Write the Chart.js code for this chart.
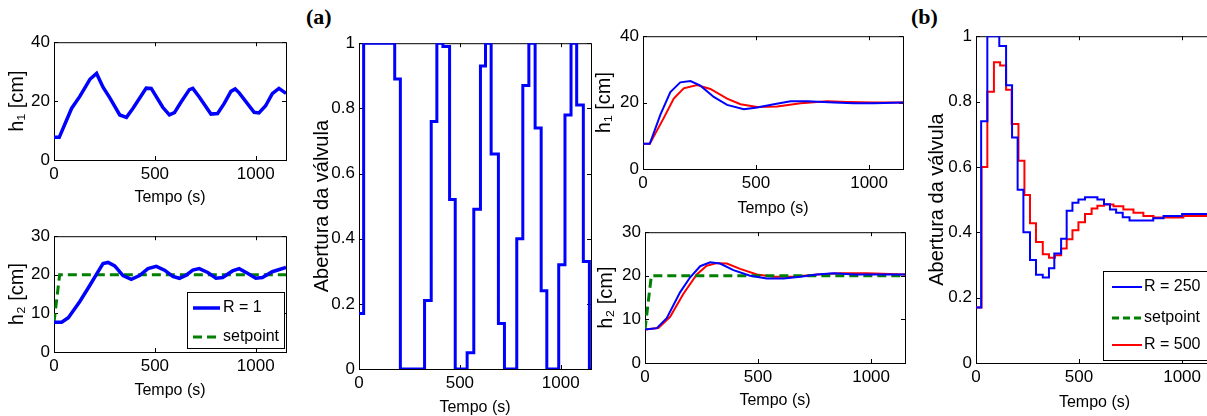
<!DOCTYPE html>
<html>
<head>
<meta charset="utf-8">
<script src="https://cdn.jsdelivr.net/npm/chart.js@4.4.0/dist/chart.umd.min.js"></script>
<style>
body { margin: 0; background: #fff; width: 1207px; height: 416px; overflow: hidden; position: relative; }
canvas { position: absolute; }
.letra { position: absolute; font-family: "Liberation Serif", serif; font-weight: bold; font-size: 22px; line-height: 1; }
</style>
</head>
<body>
<div class="letra" style="left:306px;top:6px">(a)</div>
<div class="letra" style="left:911px;top:6px">(b)</div>
<script>
const fonte = '"Liberation Sans", Arial, sans-serif';
const tamTicks = 17;
const tamTexto = 16;

const ticksX = [0, 500, 1000];
const ticksH1 = [0, 20, 40];
const ticksH2 = [0, 10, 20, 30];
const ticksU = [0, 0.2, 0.4, 0.6, 0.8, 1];

// (a) R = 1
const tH1a = [0, 26, 87, 128, 178, 211, 243, 276, 326, 359, 391, 457, 482, 539, 572, 597, 630, 671, 688, 720, 778, 811, 844, 877, 898, 918, 992, 1016, 1049, 1082, 1115, 1150];
const h1a = [7.7, 7.7, 17.5, 21.6, 27.4, 29.4, 24.7, 21.2, 15.3, 14.5, 17.5, 24.4, 24.3, 17.9, 15.3, 16.1, 19.7, 23.9, 24.3, 21.4, 15.6, 15.8, 19.2, 23.3, 24.1, 22.8, 16.2, 16.0, 18.4, 22.5, 24.3, 22.6];

const tH2a = [0, 38, 71, 128, 178, 211, 243, 268, 301, 342, 383, 424, 466, 507, 548, 589, 622, 655, 688, 720, 762, 803, 836, 885, 918, 959, 1000, 1033, 1082, 1150];
const h2a = [7.7, 7.7, 8.9, 13.1, 17.3, 20.2, 22.9, 23.2, 22.3, 19.8, 18.8, 19.8, 21.6, 22.2, 21.2, 19.6, 19.1, 19.9, 21.2, 21.6, 20.6, 19.1, 19.3, 21.0, 21.6, 20.4, 19.1, 19.3, 20.8, 21.9];

const tSp = [0, 28, 1150];
const sp = [7.7, 20, 20];

const tUa = [0, 23, 177, 205, 325, 358, 386, 416, 449, 477, 536, 569, 602, 627, 655, 691, 721, 782, 812, 842, 873, 903, 931, 990, 1021, 1051, 1079, 1112, 1142, 1150];
const ua = [0.17, 1.0, 0.89, 0, 0.21, 0.76, 1.0, 0.99, 0.52, 0, 0.05, 0.49, 0.93, 1.0, 0.66, 0.14, 0, 0.40, 0.87, 1.0, 0.74, 0.24, 0, 0.32, 0.78, 1.0, 0.81, 0.33, 0, 0];

// (b) R = 250 e R = 500
const tH1b250 = [0, 30, 77, 121, 165, 210, 254, 313, 372, 446, 505, 579, 653, 727, 845, 933, 1022, 1150];
const h1b250 = [7.6, 7.6, 16.4, 23.2, 26.1, 26.5, 25.1, 21.7, 19.3, 18.0, 18.5, 19.5, 20.4, 20.4, 20.0, 19.8, 19.8, 20.0];
const tH1b500 = [0, 30, 92, 136, 180, 239, 298, 372, 431, 505, 594, 697, 815, 904, 1022, 1150];
const h1b500 = [7.6, 7.6, 15.4, 21.2, 24.3, 25.3, 24.1, 21.2, 19.5, 18.7, 18.8, 19.8, 20.4, 20.2, 20.0, 20.0];

const tH2b250 = [0, 52, 96, 155, 199, 244, 288, 332, 391, 465, 539, 613, 687, 761, 835, 923, 1056, 1150];
const h2b250 = [7.7, 8.0, 10.3, 16.2, 19.6, 22.2, 23.1, 22.8, 21.3, 20.0, 19.4, 19.4, 19.8, 20.3, 20.6, 20.3, 20.3, 20.3];
const tH2b500 = [0, 59, 111, 170, 229, 273, 318, 362, 421, 495, 568, 657, 761, 864, 982, 1150];
const h2b500 = [7.7, 8.0, 10.6, 15.9, 20.3, 22.3, 22.9, 22.8, 21.6, 20.3, 19.8, 19.8, 20.3, 20.6, 20.6, 20.3];

const tUb250 = [0, 25, 55, 113, 146, 175, 202, 230, 262, 291, 324, 354, 380, 413, 440, 468, 497, 529, 589, 621, 650, 680, 712, 745, 860, 910, 1000, 1150];
const ub250 = [0.17, 0.74, 1.0, 0.97, 0.85, 0.69, 0.53, 0.40, 0.315, 0.27, 0.262, 0.29, 0.335, 0.38, 0.466, 0.49, 0.50, 0.507, 0.50, 0.486, 0.47, 0.46, 0.446, 0.436, 0.443, 0.45, 0.456, 0.456];
const tUb500 = [0, 27, 55, 87, 117, 146, 173, 206, 235, 262, 291, 324, 354, 383, 413, 440, 468, 497, 529, 561, 589, 621, 667, 715, 764, 812, 861, 1006, 1150];
const ub500 = [0.17, 0.60, 0.83, 0.92, 0.91, 0.836, 0.731, 0.619, 0.514, 0.428, 0.37, 0.333, 0.322, 0.33, 0.35, 0.379, 0.406, 0.431, 0.456, 0.473, 0.481, 0.485, 0.48, 0.47, 0.46, 0.45, 0.445, 0.45, 0.455];

function pares(t, v) {
  return t.map((x, i) => ({ x: x, y: v[i] }));
}

// caixa do eixo e marcas para dentro, como no MATLAB
const eixosMatlab = {
  id: 'eixosMatlab',
  beforeDatasetsDraw(chart) {
    const { ctx, chartArea: a, scales } = chart;
    ctx.save();
    ctx.strokeStyle = '#000';
    ctx.lineWidth = 1;
    ctx.strokeRect(a.left + 0.5, a.top + 0.5, a.right - a.left, a.bottom - a.top);
    ctx.beginPath();
    scales.x.ticks.forEach(t => {
      const px = Math.round(scales.x.getPixelForValue(t.value)) + 0.5;
      ctx.moveTo(px, a.bottom); ctx.lineTo(px, a.bottom - 4);
      ctx.moveTo(px, a.top); ctx.lineTo(px, a.top + 4);
    });
    scales.y.ticks.forEach(t => {
      const py = Math.round(scales.y.getPixelForValue(t.value)) + 0.5;
      ctx.moveTo(a.left, py); ctx.lineTo(a.left + 4, py);
      ctx.moveTo(a.right, py); ctx.lineTo(a.right - 4, py);
    });
    ctx.stroke();
    ctx.restore();
  }
};

const caixaLegenda = {
  id: 'caixaLegenda',
  afterDatasetsDraw(chart, args, o) {
    if (!o || !o.itens) return;
    const { ctx, chartArea: a } = chart;
    const x0 = a.right - o.dir - o.w;
    const y0 = a.bottom - o.baixo - o.h;
    ctx.save();
    ctx.fillStyle = '#fff';
    ctx.fillRect(x0, y0, o.w, o.h);
    ctx.strokeStyle = '#000';
    ctx.lineWidth = 1;
    ctx.strokeRect(x0 + 0.5, y0 + 0.5, o.w, o.h);
    o.itens.forEach((it, i) => {
      const y = y0 + o.linhas[i];
      ctx.beginPath();
      ctx.strokeStyle = it.cor;
      ctx.lineWidth = it.larg;
      ctx.setLineDash(it.traco || []);
      ctx.moveTo(x0 + o.amostra[0], y);
      ctx.lineTo(x0 + o.amostra[1], y);
      ctx.stroke();
      ctx.setLineDash([]);
      ctx.fillStyle = '#000';
      ctx.font = tamTexto + 'px ' + fonte;
      ctx.textBaseline = 'middle';
      ctx.fillText(it.texto, x0 + o.textoX, y);
    });
    ctx.restore();
  }
};

function painel(p) {
  const padTop = 10, padRight = 10;
  const yFonte = 20;
  const left = Math.round(p.yTitulo - yFonte * 0.6);
  const yw = p.box[0] - left;
  const xh = Math.round(p.xTitulo - p.box[3] + tamTexto * 0.6);
  const cv = document.createElement('canvas');
  cv.width = yw + (p.box[2] - p.box[0]) + padRight;
  cv.height = padTop + (p.box[3] - p.box[1]) + xh;
  cv.style.left = left + 'px';
  cv.style.top = (p.box[1] - padTop) + 'px';
  document.body.appendChild(cv);

  new Chart(cv, {
    type: 'line',
    data: { datasets: p.series },
    options: {
      responsive: false,
      animation: false,
      devicePixelRatio: 1,
      layout: { padding: { top: padTop, right: padRight, left: 0, bottom: 0 } },
      elements: { point: { radius: 0 }, line: { tension: 0, fill: false } },
      plugins: {
        legend: { display: false },
        tooltip: { enabled: false },
        caixaLegenda: p.legenda || false
      },
      scales: {
        x: {
          type: 'linear', min: 0, max: 1150,
          grid: { display: false, drawTicks: false },
          border: { display: false },
          afterBuildTicks: s => { s.ticks = ticksX.map(v => ({ value: v })); },
          afterFit: s => { s.height = xh; },
          ticks: { padding: 4, color: '#000', font: { family: fonte, size: tamTicks, weight: 'normal' }, callback: v => String(v), maxRotation: 0 },
          title: { display: true, text: 'Tempo (s)', color: '#000', font: { family: fonte, size: tamTexto, weight: 'normal' }, padding: 0 }
        },
        y: {
          type: 'linear', min: 0, max: p.yTicks[p.yTicks.length - 1],
          grid: { display: false, drawTicks: false },
          border: { display: false },
          afterBuildTicks: s => { s.ticks = p.yTicks.map(v => ({ value: v })); },
          afterFit: s => { s.width = yw; },
          ticks: { padding: 4, color: '#000', font: { family: fonte, size: tamTicks, weight: 'normal' }, callback: v => String(v) },
          title: { display: true, text: p.yLabel, color: '#000', font: { family: fonte, size: yFonte, weight: 'normal' }, padding: 0 }
        }
      }
    },
    plugins: [eixosMatlab, caixaLegenda]
  });
}

const azul = '#0000ff', vermelho = '#ff0000', verde = '#008000';

painel({
  box: [54, 38, 286, 160], yTitulo: 17, xTitulo: 197, yTicks: ticksH1, yLabel: 'h\u2081 [cm]',
  series: [{ data: pares(tH1a, h1a), borderColor: azul, borderWidth: 3.5 }]
});

painel({
  box: [54, 232, 286, 352], yTitulo: 17, xTitulo: 390, yTicks: ticksH2, yLabel: 'h\u2082 [cm]',
  series: [
    { data: pares(tH2a, h2a), borderColor: azul, borderWidth: 3.5 },
    { data: pares(tSp, sp), borderColor: verde, borderWidth: 3, borderDash: [9, 5] }
  ],
  legenda: {
    dir: 2, baixo: 4, w: 97, h: 56, linhas: [16, 45], amostra: [6, 33], textoX: 36,
    itens: [
      { texto: 'R = 1', cor: azul, larg: 3.5 },
      { texto: 'setpoint', cor: verde, larg: 3, traco: [9, 5] }
    ]
  }
});

painel({
  box: [359, 39, 591, 369], yTitulo: 322, xTitulo: 407, yTicks: ticksU, yLabel: 'Abertura da válvula',
  series: [{ data: pares(tUa, ua), borderColor: azul, borderWidth: 3, stepped: true }]
});

painel({
  box: [643, 32, 903, 169], yTitulo: 604, xTitulo: 208, yTicks: ticksH1, yLabel: 'h\u2081 [cm]',
  series: [
    { data: pares(tH1b250, h1b250), borderColor: azul, borderWidth: 2 },
    { data: pares(tH1b500, h1b500), borderColor: vermelho, borderWidth: 2 }
  ]
});

painel({
  box: [645, 228, 905, 363], yTitulo: 606, xTitulo: 400, yTicks: ticksH2, yLabel: 'h\u2082 [cm]',
  series: [
    { data: pares(tH2b250, h2b250), borderColor: azul, borderWidth: 2 },
    { data: pares(tSp, sp), borderColor: verde, borderWidth: 3, borderDash: [9, 5] },
    { data: pares(tH2b500, h2b500), borderColor: vermelho, borderWidth: 2 }
  ]
});

painel({
  box: [976, 32, 1213, 363], yTitulo: 937, xTitulo: 402, yTicks: ticksU, yLabel: 'Abertura da válvula',
  series: [
    { data: pares(tUb250, ub250), borderColor: azul, borderWidth: 2, stepped: true },
    { data: pares(tUb500, ub500), borderColor: vermelho, borderWidth: 2, stepped: true }
  ],
  legenda: {
    dir: 3, baixo: 3, w: 107, h: 89, linhas: [16, 47, 74], amostra: [9, 39], textoX: 41,
    itens: [
      { texto: 'R = 250', cor: azul, larg: 2 },
      { texto: 'setpoint', cor: verde, larg: 3, traco: [7, 4] },
      { texto: 'R = 500', cor: vermelho, larg: 2 }
    ]
  }
});
</script>
</body>
</html>
